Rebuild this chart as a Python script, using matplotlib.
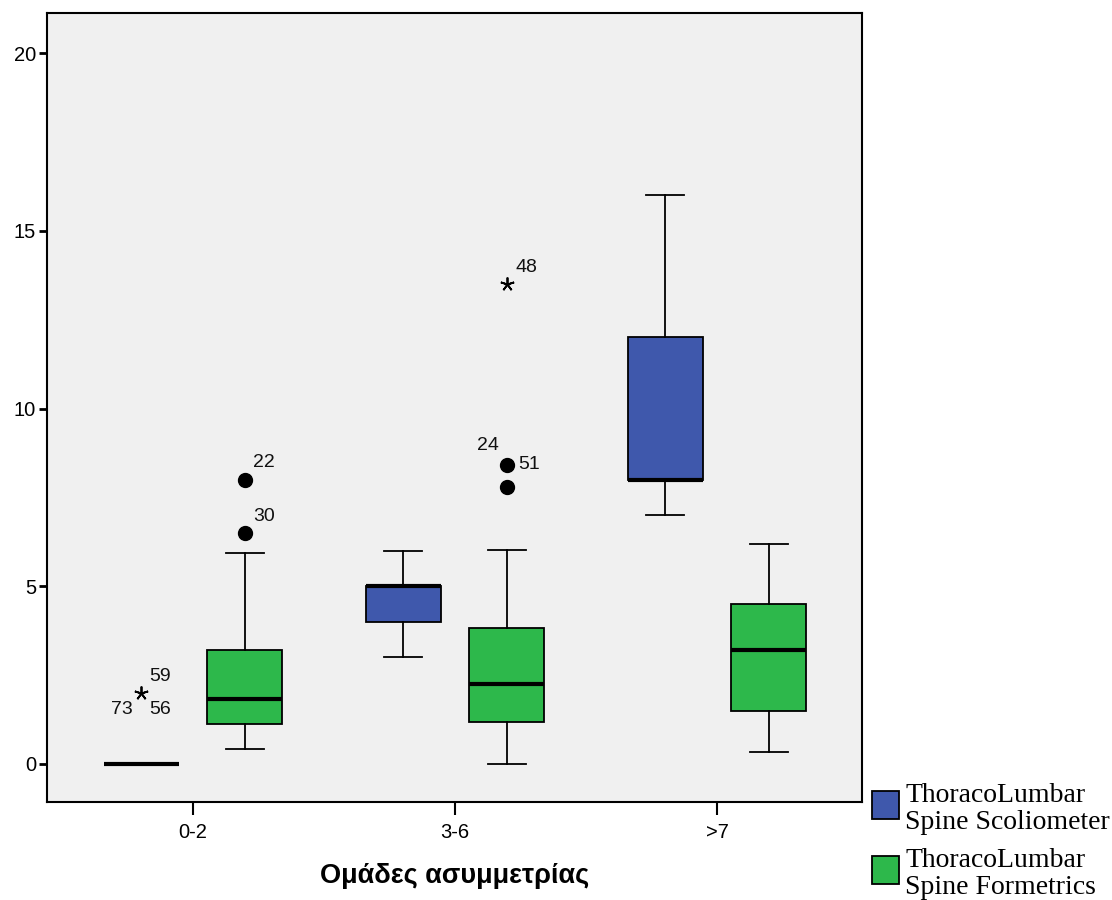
import matplotlib
matplotlib.use("Agg")
import matplotlib.pyplot as plt
from matplotlib.patches import Rectangle

# Groups on the x axis
groups = ["0-2", "3-6", ">7"]

# ThoracoLumbar Spine Scoliometer: five-number summaries per group
scolio_whislo = [0.0, 3.0, 7.0]
scolio_q1 = [0.0, 4.0, 8.0]
scolio_med = [0.0, 5.0, 8.0]
scolio_q3 = [0.0, 5.0, 12.0]
scolio_whishi = [0.0, 6.0, 16.0]
scolio_outliers = [[], [], []]
scolio_extremes = [[2.0], [], []]

# ThoracoLumbar Spine Formetrics: five-number summaries per group
formet_whislo = [0.42, 0.0, 0.33]
formet_q1 = [1.12, 1.18, 1.5]
formet_med = [1.82, 2.25, 3.2]
formet_q3 = [3.2, 3.82, 4.5]
formet_whishi = [5.93, 6.02, 6.2]
formet_outliers = [[8.0, 6.5], [8.42, 7.8], []]
formet_extremes = [[], [13.5], []]

# Case numbers printed next to outliers: (series, group, value, text, side)
case_labels = [
    ("scolio", 0, 2.0, "59", "upper right"),
    ("scolio", 0, 2.0, "73", "lower left"),
    ("scolio", 0, 2.0, "56", "lower right"),
    ("formet", 0, 8.0, "22", "upper right"),
    ("formet", 0, 6.5, "30", "upper right"),
    ("formet", 1, 13.5, "48", "upper right"),
    ("formet", 1, 8.42, "24", "upper left"),
    ("formet", 1, 8.42, "51", "right"),
]

series_names = ["ThoracoLumbar\nSpine Scoliometer", "ThoracoLumbar\nSpine Formetrics"]
x_title = "Ομάδες ασυμμετρίας"

BLUE = "#3F58AC"
GREEN = "#2DB84B"
offset = 0.198
box_w = 0.286

W, H = 1112, 900
fig = plt.figure(figsize=(W / 100, H / 100), dpi=100)
ax = fig.add_axes([47 / W, 98 / H, 815 / W, 789 / H])
ax.set_facecolor("#F0F0F0")


def make_stats(whislo, q1, med, q3, whishi):
    return [dict(whislo=a, q1=b, med=c, q3=d, whishi=e, fliers=[])
            for a, b, c, d, e in zip(whislo, q1, med, q3, whishi)]


series = [
    ("scolio", -offset, BLUE,
     make_stats(scolio_whislo, scolio_q1, scolio_med, scolio_q3, scolio_whishi),
     scolio_outliers, scolio_extremes),
    ("formet", offset, GREEN,
     make_stats(formet_whislo, formet_q1, formet_med, formet_q3, formet_whishi),
     formet_outliers, formet_extremes),
]

positions = {}
for key, off, color, stats, outs, exts in series:
    pos = [i + off for i in range(len(groups))]
    positions[key] = pos
    ax.bxp(stats, positions=pos, widths=box_w, capwidths=box_w / 2,
           patch_artist=True, showfliers=False,
           boxprops=dict(facecolor=color, edgecolor="black", linewidth=1.3),
           medianprops=dict(color="black", linewidth=3.0, solid_capstyle="butt"),
           whiskerprops=dict(color="black", linewidth=1.3),
           capprops=dict(color="black", linewidth=1.3),
           zorder=3)
    for p, vals in zip(pos, outs):
        if vals:
            ax.plot([p] * len(vals), vals, "o", color="black", markersize=10,
                    zorder=4)
    for p, vals in zip(pos, exts):
        if vals:
            ax.plot([p] * len(vals), vals, marker=(5, 2, 0), linestyle="none",
                    color="black", markersize=10, markeredgewidth=1.3, zorder=4)

side_offsets = {
    "upper right": (6, 6, "left", "bottom"),
    "upper left": (-6, 8, "right", "bottom"),
    "lower left": (-6, -6, "right", "top"),
    "lower right": (6, -6, "left", "top"),
    "right": (8, 0, "left", "center"),
}
for key, gi, val, txt, side in case_labels:
    dx, dy, ha, va = side_offsets[side]
    ax.annotate(txt, xy=(positions[key][gi], val), xytext=(dx, dy),
                textcoords="offset points", ha=ha, va=va, fontsize=14,
                family="Liberation Sans", color="#111111", zorder=5)

ax.set_xlim(-0.557, 2.553)
ax.set_ylim(-1.07, 21.13)
ax.set_xticks(range(len(groups)))
ax.set_xticklabels(groups)
ax.set_yticks([0, 5, 10, 15, 20])
for s in ax.spines.values():
    s.set_linewidth(1.5)
    s.set_color("black")
ax.tick_params(axis="y", direction="out", length=6, width=2, labelsize=14.5, pad=2)
ax.tick_params(axis="x", direction="out", length=9, width=1.5, labelsize=14.5, pad=6)
for lab in ax.get_xticklabels() + ax.get_yticklabels():
    lab.set_family("Liberation Sans")
ax.set_xlabel(x_title, fontsize=19.5, fontweight="bold", family="Liberation Sans",
              labelpad=15)

# Legend drawn in figure pixel coordinates
legend_colors = [BLUE, GREEN]
legend_top = [791, 856]
for color, top, name in zip(legend_colors, legend_top, series_names):
    fig.add_artist(Rectangle((872 / W, 1 - (top + 28) / H), 27 / W, 28 / H,
                             transform=fig.transFigure, facecolor=color,
                             edgecolor="black", linewidth=1.3))
    fig.text(905 / W, 1 - (top + 18) / H, name, ha="left", va="center",
             family="Liberation Serif", fontsize=20, linespacing=1.07)

fig.savefig("out.png", dpi=100, facecolor="white")
